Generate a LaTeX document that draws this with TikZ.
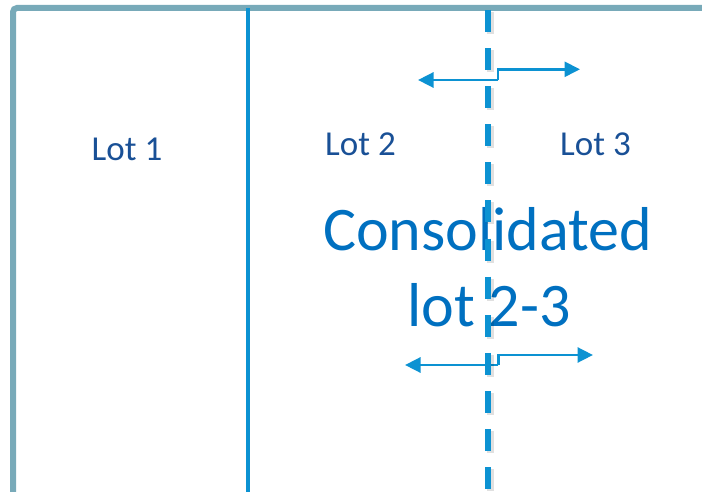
\documentclass[tikz,border=0pt]{standalone}
\usepackage{fontspec}
\setmainfont{Carlito}
\usetikzlibrary{arrows.meta}
\definecolor{bordercol}{RGB}{120,170,185}
\definecolor{lineblue}{RGB}{12,146,210}
\definecolor{lotblue}{RGB}{25,80,150}
\definecolor{bigblue}{RGB}{0,112,192}
\tikzset{
  border/.style={draw=bordercol, line width=6pt, rounded corners=4pt},
  divider/.style={draw=lineblue, line width=4pt},
  dashdiv/.style={draw=lineblue, line width=5.5pt, dash pattern=on 22pt off 16.1pt},
  dashshadow/.style={draw=black, opacity=0.12, line width=7pt, dash pattern=on 22pt off 16.1pt},
  movearrow/.style={draw=lineblue, line width=2.8pt, -{Triangle[length=15.5pt,width=15pt]}},
  lotlabel/.style={anchor=base, text=lotblue, font=\fontsize{35}{40}\selectfont, inner sep=0pt},
  biglabel/.style={anchor=base, text=bigblue, font=\fontsize{62}{70}\selectfont, inner sep=0pt}
}
\begin{document}
\begin{tikzpicture}[x=1pt, y=-1pt]
\useasboundingbox (0,0) rectangle (702,492);
% frame
\draw[border] (13,495) -- (13,8) -- (705,8);
\draw[divider] (248,8) -- (248,495);
% labels
\node[lotlabel] (lot1) at (127,161) {Lot 1};
\node[lotlabel] (lot2) at (360.5,156) {Lot 2};
\node[lotlabel] (lot3) at (595.5,156) {Lot 3};
\node[biglabel] (cons1) at (487.5,250) {Consolidated};
\node[biglabel] (cons2) at (489,326.7) {lot 2-3};
% arrows
\coordinate (ta) at (498,80);
\coordinate (tb) at (498,69.3);
\draw[movearrow] (ta) -- (418,80);
\draw[movearrow] (ta) -- (tb) -- (580,69.3);
\coordinate (ba) at (498.3,365);
\coordinate (bb) at (498.3,355);
\draw[movearrow] (ba) -- (405,365);
\draw[movearrow] (ba) -- (bb) -- (593,355);
% dashed boundary
\draw[dashshadow] (490,12) -- (490,500);
\draw[dashdiv] (488,10) -- (488,500);
\end{tikzpicture}
\end{document}
